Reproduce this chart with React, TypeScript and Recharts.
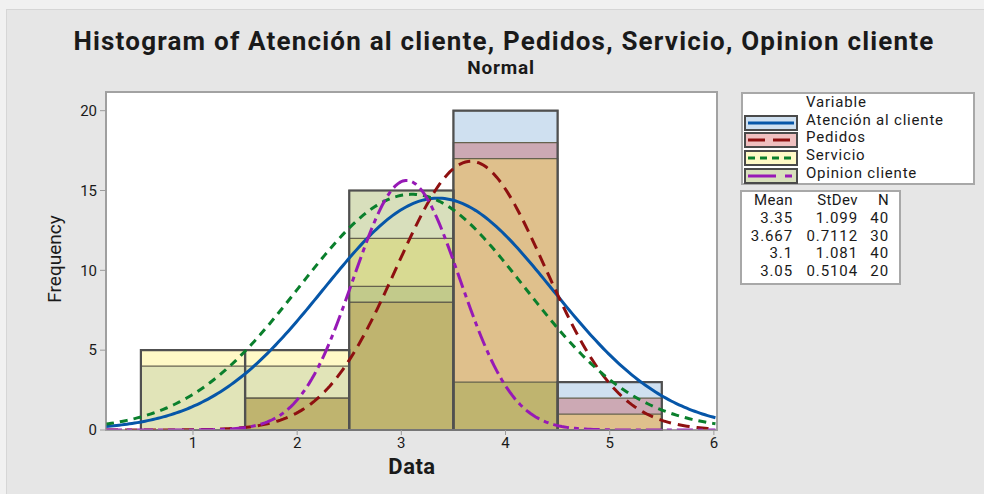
import React from 'react';
import { ComposedChart, Line, XAxis, YAxis, ReferenceArea } from 'recharts';

// histogram bins (width 1) and counts per variable
const binCenters = [1, 2, 3, 4, 5];
const atencionCounts = [4, 4, 9, 20, 3];
const pedidosCounts = [0, 2, 8, 18, 2];
const servicioCounts = [5, 5, 12, 17, 1];
const opinionCounts = [0, 2, 15, 3, 0];

// statistics printed in the side table
const variableNames = ['Atención al cliente', 'Pedidos', 'Servicio', 'Opinion cliente'];
const meanValues = [3.35, 3.667, 3.1, 3.05];
const stdevValues = [1.099, 0.7112, 1.081, 0.5104];
const nValues = [40, 30, 40, 20];
const meanLabels = ['3.35', '3.667', '3.1', '3.05'];
const stdevLabels = ['1.099', '0.7112', '1.081', '0.5104'];

const xTicks = [1, 2, 3, 4, 5, 6];
const yTicks = [0, 5, 10, 15, 20];

const X_DOMAIN: [number, number] = [0.165, 6.03];
const Y_DOMAIN: [number, number] = [0, 21.17];

const seriesKeys = ['A', 'P', 'S', 'O'];
const allCounts = [atencionCounts, pedidosCounts, servicioCounts, opinionCounts];

const lineColors = ['#0656a8', '#8e1010', '#0a7f2c', '#9719b6'];
const swatchFills = ['#cfe0f0', '#f0c0c0', '#fff9c6', '#d8dfbc'];
const plotDash = [undefined, '12 7', '8 6', '16 5 5 5'];
const legendDash = [undefined, '17 8', '7 5', '28 9 7 9'];

// colour of each overlapped region, by which variables cover it
const overlapFill: Record<string, string> = {
  A: '#cfe0f0',
  P: '#f0c0c0',
  S: '#fff9c6',
  O: '#d8dfbc',
  AP: '#cca9b4',
  AS: '#e1e4b8',
  SO: '#d8da92',
  APS: '#dfc08c',
  ASO: '#c2ca8b',
  APSO: '#bfb46f',
};

// split every bin into the layers where a given set of variables overlaps
const segments = binCenters.flatMap((c, i) => {
  const levels = Array.from(new Set([0, ...allCounts.map((s) => s[i])])).sort((a, b) => a - b);
  return levels.slice(1).map((top, k) => ({
    c,
    bottom: levels[k],
    top,
    key: seriesKeys.filter((_, j) => allCounts[j][i] >= top).join(''),
  }));
});

const envelope = binCenters.map((c, i) => ({ c, top: Math.max(...allCounts.map((s) => s[i])) }));

// fitted normal curve: N * binWidth * pdf(x; mean, stdev), from the table above
const curveData = meanValues.map((m, j) => {
  const pts: { x: number; y: number }[] = [];
  const sd = stdevValues[j];
  for (let x = X_DOMAIN[0]; x <= X_DOMAIN[1] + 1e-9; x += 0.025) {
    const z = (x - m) / sd;
    pts.push({ x, y: (nValues[j] * Math.exp(-0.5 * z * z)) / (sd * Math.sqrt(2 * Math.PI)) });
  }
  return pts;
});

const font = 'Roboto, "Open Sans", sans-serif';

const App: React.FC = () => {
  return (
    <div style={{ position: 'absolute', left: 0, top: 0, width: 984, height: 494, background: '#f1f1f1', fontFamily: font, color: '#1a1a1a' }}>
      <div style={{ position: 'absolute', left: 6, top: 9, width: 978, height: 485, background: '#e6e6e6', borderLeft: '1px solid #d6d6d6', borderTop: '1px solid #d6d6d6' }} />

      <div style={{ position: 'absolute', left: 0, top: 0 }}>
        <ComposedChart width={984} height={494} margin={{ top: 92, right: 267, bottom: 14, left: 0 }}>
          <XAxis
            dataKey="x"
            type="number"
            domain={X_DOMAIN}
            ticks={xTicks}
            allowDataOverflow
            height={50}
            tickSize={5}
            tickMargin={2}
            stroke="#9c9c9c"
            tick={{ fill: '#1a1a1a', fontSize: 15, fontFamily: font }}
          />
          <YAxis
            type="number"
            domain={Y_DOMAIN}
            ticks={yTicks}
            allowDataOverflow
            width={106}
            tickSize={6}
            tickMargin={3}
            stroke="#9c9c9c"
            tick={{ fill: '#1a1a1a', fontSize: 15, fontFamily: font }}
          />

          <ReferenceArea x1={X_DOMAIN[0]} x2={X_DOMAIN[1]} y1={Y_DOMAIN[0]} y2={Y_DOMAIN[1]} fill="#ffffff" fillOpacity={1} stroke="#a2a2a2" strokeWidth={2} ifOverflow="visible" />

          {segments.map((s, i) => (
            <ReferenceArea
              key={`seg-${i}`}
              x1={s.c - 0.5}
              x2={s.c + 0.5}
              y1={s.bottom}
              y2={s.top}
              fill={overlapFill[s.key] || '#dddddd'}
              fillOpacity={1}
              stroke="none"
              ifOverflow="visible"
            />
          ))}

          {allCounts.flatMap((counts, j) =>
            counts.map((v, i) =>
              v > 0 ? (
                <ReferenceArea
                  key={`out-${j}-${i}`}
                  x1={binCenters[i] - 0.5}
                  x2={binCenters[i] + 0.5}
                  y1={0}
                  y2={v}
                  fill="none"
                  stroke="#66624e"
                  strokeWidth={1.3}
                  ifOverflow="visible"
                />
              ) : null
            )
          )}

          {envelope.map((e, i) => (
            <ReferenceArea
              key={`env-${i}`}
              x1={e.c - 0.5}
              x2={e.c + 0.5}
              y1={0}
              y2={e.top}
              fill="none"
              stroke="#505050"
              strokeWidth={2.2}
              ifOverflow="visible"
            />
          ))}

          {curveData.map((pts, j) => (
            <Line
              key={`curve-${j}`}
              data={pts}
              dataKey="y"
              type="linear"
              dot={false}
              activeDot={false}
              stroke={lineColors[j]}
              strokeWidth={3}
              strokeDasharray={plotDash[j]}
              isAnimationActive={false}
            />
          ))}
        </ComposedChart>
      </div>

      {/* titles */}
      <div style={{ position: 'absolute', left: 0, width: 1008, top: 26, textAlign: 'center', fontSize: 26, fontWeight: 700, lineHeight: '30px', letterSpacing: 1.2, whiteSpace: 'nowrap' }}>
        Histogram of Atención al cliente, Pedidos, Servicio, Opinion cliente
      </div>
      <div style={{ position: 'absolute', left: 0, width: 1002, top: 57, textAlign: 'center', fontSize: 19, fontWeight: 700, lineHeight: '22px', letterSpacing: 0.8 }}>
        Normal
      </div>
      <div style={{ position: 'absolute', left: 412 - 60, width: 120, top: 454, textAlign: 'center', fontSize: 22, fontWeight: 700, lineHeight: '26px', letterSpacing: 0.5 }}>
        Data
      </div>
      <div style={{ position: 'absolute', left: 55 - 60, top: 259 - 12, width: 120, textAlign: 'center', fontSize: 19, lineHeight: '24px', transform: 'rotate(-90deg)' }}>
        Frequency
      </div>

      {/* legend */}
      <div style={{ position: 'absolute', left: 741, top: 92, width: 230, height: 89, background: '#fff', border: '2px solid #a8a8a8', fontSize: 15, lineHeight: '17.6px', letterSpacing: 0.8, whiteSpace: 'nowrap' }}>
        <div style={{ position: 'absolute', left: 63, top: 0 }}>Variable</div>
        {variableNames.map((name, j) => (
          <div key={name} style={{ position: 'absolute', left: 0, top: 17.7 + j * 17.7, height: 17.6, width: 230 }}>
            <svg width={56} height={21} style={{ position: 'absolute', left: 1, top: 3, overflow: 'visible' }}>
              <rect x={1} y={1} width={52} height={14} fill={swatchFills[j]} stroke="#4a4a4a" strokeWidth={2} />
              <line x1={4} x2={50} y1={8} y2={8} stroke={lineColors[j]} strokeWidth={3} strokeDasharray={legendDash[j]} />
            </svg>
            <div style={{ position: 'absolute', left: 63, top: 0 }}>{name}</div>
          </div>
        ))}
      </div>

      {/* statistics table */}
      <div style={{ position: 'absolute', left: 740, top: 190, width: 157, height: 91, background: '#fff', border: '2px solid #a8a8a8', fontSize: 15, lineHeight: '17.6px', whiteSpace: 'nowrap' }}>
        {[{ r: 51, t: 'Mean' }, { r: 116, t: 'StDev' }, { r: 147, t: 'N' }].map((h) => (
          <div key={h.t} style={{ position: 'absolute', right: 157 - h.r, top: 0, letterSpacing: 0.4 }}>{h.t}</div>
        ))}
        {meanLabels.map((m, j) => (
          <React.Fragment key={m}>
            <div style={{ position: 'absolute', right: 157 - 51, top: 17.8 + j * 17.7, letterSpacing: 0.9 }}>{m}</div>
            <div style={{ position: 'absolute', right: 157 - 116, top: 17.8 + j * 17.7, letterSpacing: 0.9 }}>{stdevLabels[j]}</div>
            <div style={{ position: 'absolute', right: 157 - 147, top: 17.8 + j * 17.7, letterSpacing: 0.9 }}>{nValues[j]}</div>
          </React.Fragment>
        ))}
      </div>
    </div>
  );
};

export default App;
